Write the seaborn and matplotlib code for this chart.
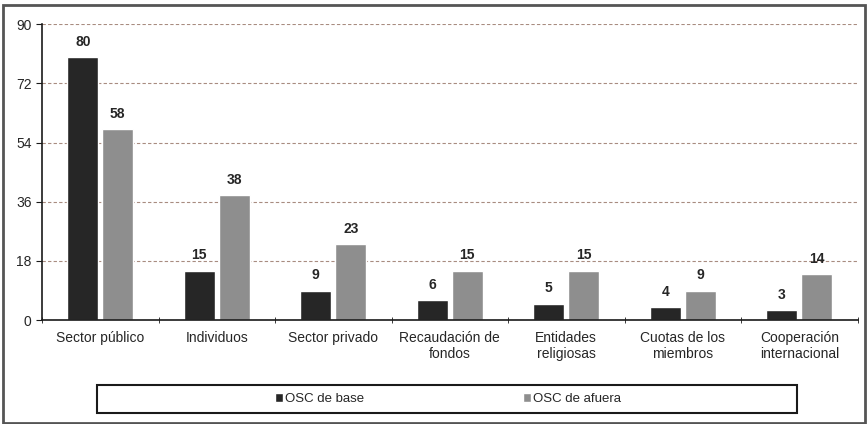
import numpy as np
import pandas as pd
import seaborn as sns
import matplotlib.pyplot as plt
from matplotlib.patches import Rectangle

# %% data

categorias = ["Sector público", "Individuos", "Sector privado",
              "Recaudación de\nfondos", "Entidades\nreligiosas",
              "Cuotas de los\nmiembros", "Cooperación\ninternacional"]
osc_base = [80, 15, 9, 6, 5, 4, 3]
osc_afuera = [58, 38, 23, 15, 15, 9, 14]
series = ["OSC de base", "OSC de afuera"]
yticks = [0, 18, 36, 54, 72, 90]

df = pd.DataFrame({
    "categoria": categorias * 2,
    "valor": osc_base + osc_afuera,
    "serie": [series[0]] * len(categorias) + [series[1]] * len(categorias),
})

# %% plot

sns.set_style("white")
plt.rcParams['font.family'] = ['Liberation Sans', 'DejaVu Sans']

fig = plt.figure(figsize=(8.68, 4.24), dpi=100)
ax = fig.add_axes([0.0484, 0.245, 0.9396, 0.698])

sns.barplot(data=df, x="categoria", y="valor", hue="serie",
            order=categorias, hue_order=series,
            palette={"OSC de base": "#262626", "OSC de afuera": "#8e8e8e"},
            width=0.6, gap=0.12, saturation=1, ax=ax)

for cont in ax.containers:
    ax.bar_label(cont, fontweight="bold", fontsize=10, padding=6)

ax.set_ylim(0, 90)
ax.set_xlim(-0.5, 6.5)
ax.set_yticks(yticks)
ax.set_xticks(np.arange(-0.5, 7, 1), minor=True)
ax.yaxis.grid(True, linestyle=(0, (3, 2)), color="#a88c80", linewidth=0.8)
ax.set_axisbelow(True)

for s in ["top", "right"]:
    ax.spines[s].set_visible(False)
for s in ["left", "bottom"]:
    ax.spines[s].set_color("#1a1a1a")
    ax.spines[s].set_linewidth(1.2)

ax.tick_params(axis="y", labelsize=10, length=4, left=True, color="#1a1a1a")
ax.tick_params(axis="x", which="major", labelsize=10, length=0, pad=8)
ax.tick_params(axis="x", which="minor", length=5, direction="inout",
               bottom=True, color="#1a1a1a")
ax.set_xlabel("")
ax.set_ylabel("")

handles, labels = ax.get_legend_handles_labels()
ax.get_legend().remove()
fig.legend(handles, labels, loc="center", bbox_to_anchor=(0.516, 0.059),
           ncol=2, frameon=False, fontsize=9.5, handlelength=0.6,
           handleheight=0.6, handletextpad=0.2, columnspacing=12)

# legend box and outer frame
fig.patches.append(Rectangle((0.112, 0.026), 0.806, 0.066, transform=fig.transFigure,
                             fill=False, edgecolor="#1a1a1a", linewidth=1.5))
fig.patches.append(Rectangle((0.003, 0.003), 0.994, 0.985, transform=fig.transFigure,
                             fill=False, edgecolor="#555555", linewidth=2))

plt.savefig("out.png", dpi=100)
